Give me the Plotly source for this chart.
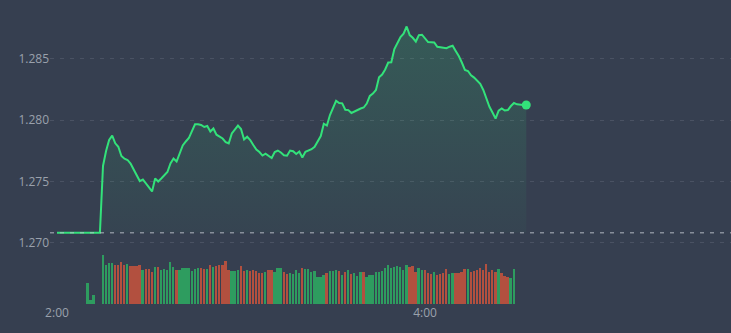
import plotly.graph_objects as go

# ---- data ----
minutes = list(range(0, 154))  # minutes after 2:00
prices = [
    1.27082, 1.27082, 1.27082, 1.27082, 1.27082, 1.27082, 1.27082, 1.27082,
    1.27082, 1.27082, 1.27082, 1.27082, 1.27082, 1.27082, 1.27082,
    1.27626, 1.27748, 1.27838, 1.27874, 1.27811, 1.27783, 1.27707, 1.27685,
    1.27675, 1.27646, 1.27597, 1.27552, 1.27503, 1.27516, 1.27483, 1.27442,
    1.27418, 1.27524, 1.27499, 1.27524, 1.27548, 1.27577, 1.27646, 1.27687,
    1.27662, 1.27736, 1.27793, 1.27826, 1.27854, 1.27911, 1.27966, 1.27966,
    1.27960, 1.27944, 1.27952, 1.27907, 1.27932, 1.27881, 1.27866, 1.27850,
    1.27821, 1.27811, 1.27891, 1.27919, 1.27956, 1.27927, 1.27842, 1.27865,
    1.27838, 1.27797, 1.27760, 1.27740, 1.27711, 1.27726, 1.27707, 1.27691,
    1.27740, 1.27752, 1.27736, 1.27714, 1.27710, 1.27752, 1.27746, 1.27724,
    1.27744, 1.27695, 1.27742, 1.27754, 1.27763, 1.27783, 1.27830, 1.27870,
    1.27971, 1.27956, 1.28042, 1.28107, 1.28158, 1.28140, 1.28137, 1.28085,
    1.28082, 1.28058, 1.28072, 1.28086, 1.28095, 1.28103, 1.28135, 1.28197,
    1.28217, 1.28246, 1.28349, 1.28372, 1.28413, 1.28470, 1.28472, 1.28580,
    1.28625, 1.28678, 1.28706, 1.28764, 1.28694, 1.28672, 1.28641, 1.28694,
    1.28697, 1.28666, 1.28637, 1.28635, 1.28633, 1.28598, 1.28595, 1.28591,
    1.28587, 1.28599, 1.28607, 1.28564, 1.28523, 1.28470, 1.28410, 1.28401,
    1.28366, 1.28347, 1.28323, 1.28296, 1.28246, 1.28170, 1.28109, 1.28062,
    1.28013, 1.28078, 1.28096, 1.28078, 1.28082, 1.28115, 1.28140, 1.28129,
    1.28123, 1.28123, 1.28123,
]
prev_close = 1.27082

vol_minutes = [10, 11, 12] + list(range(15, 150))
vol_values = [
    21, 4, 9,
    49, 39, 41, 41, 39, 39, 42, 39, 40, 38,
    38, 38, 39, 34, 35, 35, 32, 37, 37, 34,
    35, 34, 42, 37, 34, 34, 36, 36, 36, 33,
    35, 36, 36, 35, 35, 39, 37, 38, 39, 39,
    43, 34, 33, 33, 34, 38, 33, 34, 33, 34,
    33, 31, 31, 32, 34, 34, 32, 36, 36, 32,
    30, 31, 30, 34, 31, 36, 35, 35, 32, 33,
    27, 27, 29, 31, 33, 33, 34, 33, 29, 32,
    34, 30, 31, 28, 32, 32, 27, 29, 29, 32,
    32, 33, 36, 39, 36, 37, 38, 37, 34, 39,
    37, 38, 32, 36, 34, 34, 31, 30, 32, 29,
    30, 31, 35, 30, 31, 31, 31, 32, 35, 35,
    32, 33, 34, 36, 34, 40, 32, 34, 32, 35,
    31, 28, 27, 26, 35,
]
vol_dir = (
    "GGG"
    "GGGGRRRRGR"
    "RRRGRRRGRG"
    "GGGGRGGGGG"
    "GGRRGRGRRR"
    "RRGGGRRGRR"
    "RRRGRRGGGR"
    "RGGGGRGGGG"
    "GGGRGGGRGR"
    "GRGGGRGGGG"
    "GGGGGGGGGG"
    "RRRGGRRRGR"
    "RRRGGRRRRG"
    "RRRRRRRRRG"
    "RRRGG"
)
tick_vals = [0, 120]
tick_text = ["2:00", "4:00"]
price_ticks = [1.270, 1.275, 1.280, 1.285]

# ---- style ----
BG = "#363f50"
LINE = "#33e27a"
GREEN = "#2e9c5f"
RED = "#b2503f"
GRID = "#4a5263"
TXT = "#9aa1ac"

vol_colors = [GREEN if c == "G" else RED for c in vol_dir]

fig = go.Figure()
fig.add_trace(go.Scatter(
    x=[minutes[0], minutes[-1]], y=[prev_close, prev_close],
    mode="lines", line=dict(width=0), hoverinfo="skip", showlegend=False,
))
fig.add_trace(go.Scatter(
    x=minutes, y=prices, mode="lines",
    line=dict(color=LINE, width=2),
    fill="tonexty",
    fillgradient=dict(
        type="vertical",
        start=prev_close, stop=max(prices),
        colorscale=[[0, "rgba(51,226,122,0.03)"], [1, "rgba(51,226,122,0.17)"]],
    ),
    showlegend=False,
))
fig.add_trace(go.Scatter(
    x=[minutes[-1]], y=[prices[-1]], mode="markers",
    marker=dict(color=LINE, size=9), showlegend=False,
))
fig.add_trace(go.Bar(
    x=vol_minutes, y=vol_values, marker=dict(color=vol_colors, line=dict(width=0)),
    width=0.6, yaxis="y2", showlegend=False,
))

fig.add_shape(
    type="line", xref="paper", x0=0, x1=1, yref="y", y0=prev_close, y1=prev_close,
    line=dict(color="rgba(190,195,205,0.6)", width=1.5, dash="4px,6px"), layer="above",
)

fig.update_layout(
    width=731, height=333,
    margin=dict(l=50, r=0, t=0, b=29),
    paper_bgcolor=BG, plot_bgcolor=BG,
    font=dict(family="Open Sans, sans-serif", size=12, color=TXT),
    bargap=0,
    xaxis=dict(
        range=[-2.28, 219.76], tickvals=tick_vals, ticktext=tick_text,
        showgrid=False, zeroline=False, showline=False, ticks="",
        tickfont=dict(size=12, color=TXT),
    ),
    yaxis=dict(
        range=[1.26500, 1.28980], tickvals=price_ticks,
        ticktext=[f"{v:.3f}" for v in price_ticks],
        showgrid=True, gridcolor=GRID, gridwidth=1, griddash="4px,6px",
        zeroline=False, showline=False, ticks="",
        tickfont=dict(size=12, color=TXT),
    ),
    yaxis2=dict(range=[0, 304], overlaying="y", visible=False),
)

fig.write_html("out.html")
